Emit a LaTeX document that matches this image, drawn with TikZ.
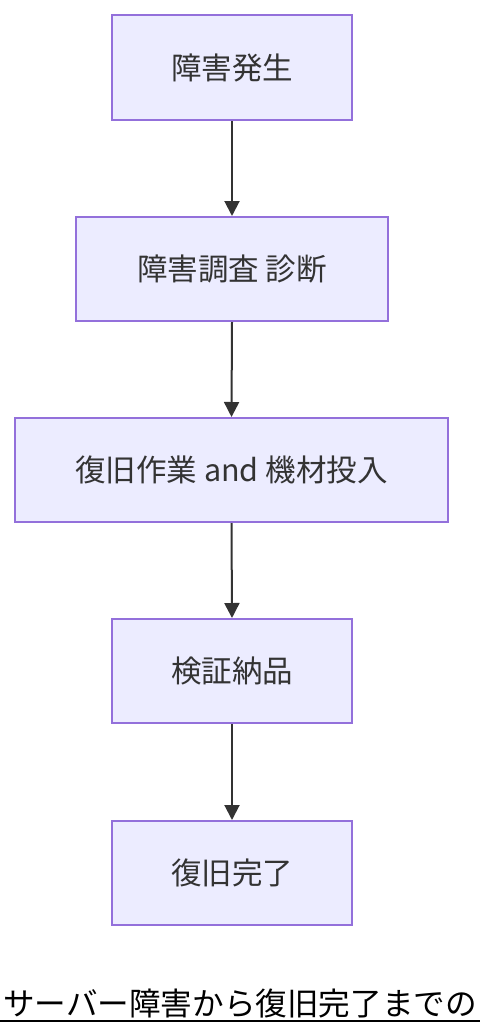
\documentclass[tikz,border=0pt]{standalone}
\usepackage{fontspec}
\setmainfont{Noto Sans CJK JP}
\usetikzlibrary{arrows.meta}
\definecolor{boxfill}{HTML}{ECECFF}
\definecolor{boxline}{HTML}{9370DB}
\definecolor{txt}{HTML}{333333}
\begin{document}
\begin{tikzpicture}[x=1pt,y=-1pt,
  flowbox/.style={draw=boxline,fill=boxfill,line width=2pt,text=txt,
    inner sep=0pt,font=\fontsize{30.5}{36}\selectfont},
  flowarrow/.style={draw=txt,line width=2pt,-{Triangle[length=15pt,width=15pt]}}]
\useasboundingbox (0,0) rectangle (480,1036);
\node[flowbox,minimum width=240pt,minimum height=105pt] (n1) at (232,67.5) {障害発生};
\node[flowbox,minimum width=312pt,minimum height=104pt] (n2) at (232,269) {障害調査 診断};
\node[flowbox,minimum width=433pt,minimum height=104pt] (n3) at (231.5,470) {復旧作業 and 機材投入};
\node[flowbox,minimum width=240pt,minimum height=104pt] (n4) at (232,671) {検証納品};
\node[flowbox,minimum width=240pt,minimum height=104pt] (n5) at (232,873) {復旧完了};
\draw[flowarrow] (n1.south) -- (n2.north);
\draw[flowarrow] (n2.south) -- (n3.north);
\draw[flowarrow] (n3.south) -- (n4.north);
\draw[flowarrow] (n4.south) -- (n5.north);
\node[inner sep=0pt,font=\fontsize{31.6}{36}\selectfont,text=black] (title) at (240,1003) {サーバー障害から復旧完了までの};
\draw[line width=2pt] (0,1021) -- (480,1021);
\end{tikzpicture}
\end{document}
